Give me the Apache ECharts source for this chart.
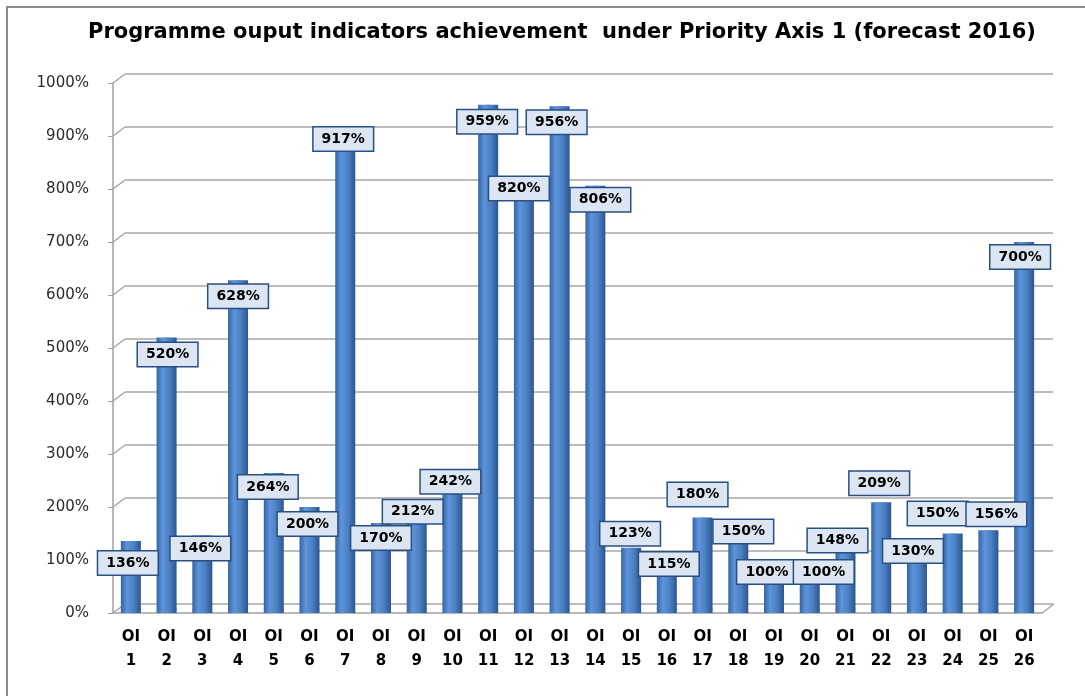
<!DOCTYPE html>
<html>
<head>
<meta charset="utf-8">
<script src="https://cdn.jsdelivr.net/npm/echarts@6/dist/echarts.min.js"></script>
<style>
  html, body { margin: 0; padding: 0; background: #fff; }
  #chart { width: 1085px; height: 696px; }
</style>
</head>
<body>
<div id="chart"></div>
<script>
// values
const categories = ['OI\n1', 'OI\n2', 'OI\n3', 'OI\n4', 'OI\n5', 'OI\n6', 'OI\n7', 'OI\n8', 'OI\n9', 'OI\n10',
  'OI\n11', 'OI\n12', 'OI\n13', 'OI\n14', 'OI\n15', 'OI\n16', 'OI\n17', 'OI\n18', 'OI\n19', 'OI\n20',
  'OI\n21', 'OI\n22', 'OI\n23', 'OI\n24', 'OI\n25', 'OI\n26'];
const achievement = [136, 520, 146, 628, 264, 200, 917, 170, 212, 242, 959, 820, 956, 806, 123,
  115, 180, 150, 100, 100, 148, 209, 130, 150, 156, 700];
const yTicks = [0, 100, 200, 300, 400, 500, 600, 700, 800, 900, 1000];
// where each data label sits, relative to the top of its bar (px)
const labelShift = [[-3, 22], [1, 17], [-2, 13], [0, 16], [-6, 14], [-2, 17], [-2, 12], [0, 15], [-4, 11], [-2, -3],
  [-1, 17], [-5, 10], [-3, 16], [5, 14], [-1, -14], [2, 12], [-5, -23], [5, -2], [-7, 12], [14, 12],
  [-8, 6], [-2, -19], [-4, 7], [-15, -20], [8, -16], [-4, 15]];

const chartDom = document.getElementById('chart');
const myChart = echarts.init(chartDom);

const barColor = new echarts.graphic.LinearGradient(0, 0, 1, 0, [
  { offset: 0, color: '#3464a4' },
  { offset: 0.3, color: '#5e94da' },
  { offset: 0.65, color: '#4a7fc3' },
  { offset: 1, color: '#2b558f' },
]);

const option = {
  animation: false,
  title: {
    text: 'Programme ouput indicators achievement  under Priority Axis 1 (forecast 2016)',
    left: 83,
    top: 17,
    textStyle: { fontFamily: 'DejaVu Sans', fontWeight: 'bold', fontSize: 21, color: '#000' },
  },
  graphic: [
    {
      type: 'rect',
      shape: { x: 7, y: 7, width: 1200, height: 1000 },
      style: { fill: 'none', stroke: '#8c8c8c', lineWidth: 2 },
      silent: true,
    },
  ],
  grid: [
    { left: 113, right: 43, top: 83, bottom: 83 },
    { left: 125, right: 32, top: 74, bottom: 92 }, // back wall
  ],
  xAxis: [
    {
      type: 'category',
      data: categories,
      gridIndex: 0,
      axisLine: { lineStyle: { color: '#a0a0a0', width: 1.5 } },
      axisTick: { lineStyle: { color: '#a0a0a0' }, length: 5 },
      axisLabel: {
        interval: 0,
        margin: 12,
        fontFamily: 'DejaVu Sans',
        fontWeight: 'bold',
        fontSize: 15,
        lineHeight: 24,
        color: '#000',
      },
    },
    { type: 'category', data: categories, gridIndex: 1, show: false },
  ],
  yAxis: [
    {
      type: 'value',
      gridIndex: 0,
      min: 0,
      max: 1000,
      interval: 100,
      splitLine: { show: false },
      axisLine: { show: true, lineStyle: { color: '#a0a0a0', width: 1.5 } },
      axisTick: { show: true, length: 5, lineStyle: { color: '#a0a0a0' } },
      axisLabel: {
        formatter: (v) => v + '%',
        margin: 24,
        fontFamily: 'DejaVu Sans',
        fontSize: 15,
        color: '#2a2a2a',
      },
    },
    {
      type: 'value',
      gridIndex: 1,
      min: 0,
      max: 1000,
      interval: 100,
      axisLine: { show: false },
      axisTick: { show: false },
      axisLabel: { show: false },
      splitLine: { lineStyle: { color: '#a6a6a6', width: 1.5 } },
    },
  ],
  series: [
    {
      // small diagonals that join the front axis to the back wall
      type: 'custom',
      xAxisIndex: 0,
      yAxisIndex: 0,
      data: yTicks,
      silent: true,
      z: 1,
      renderItem: (params, api) => {
        const cs = params.coordSys;
        const y = api.coord([0, api.value(0)])[1];
        const children = [
          { type: 'line', shape: { x1: cs.x, y1: y, x2: cs.x + 12, y2: y - 9 }, style: { stroke: '#a6a6a6', lineWidth: 1.5 } },
        ];
        if (api.value(0) === 0) {
          children.push({
            type: 'line',
            shape: { x1: cs.x + cs.width, y1: y, x2: cs.x + cs.width + 12, y2: y - 9 },
            style: { stroke: '#a6a6a6', lineWidth: 1.5 },
          });
        }
        return { type: 'group', children };
      },
      encode: { y: 0 },
    },
    {
      // rounded foot of each cylinder
      type: 'pictorialBar',
      data: achievement,
      symbol: 'circle',
      symbolSize: [20, 7],
      symbolPosition: 'start',
      symbolOffset: [0, 0],
      itemStyle: { color: barColor },
      z: 3,
      silent: true,
    },
    {
      // top cap
      type: 'pictorialBar',
      data: achievement,
      symbol: 'circle',
      symbolSize: [20, 7],
      symbolPosition: 'end',
      symbolOffset: [0, 0],
      itemStyle: { color: '#4d80c4' },
      z: 2,
      silent: true,
    },
    {
      type: 'bar',
      data: achievement.map((v, i) => ({
        value: v,
        label: { offset: labelShift[i] },
      })),
      barWidth: 20,
      z: 3,
      itemStyle: { color: barColor },
      label: {
        show: true,
        position: ['50%', 0],
        align: 'center',
        verticalAlign: 'middle',
        formatter: '{c}%',
        fontFamily: 'DejaVu Sans',
        fontWeight: 'bold',
        fontSize: 14,
        color: '#000',
        backgroundColor: '#dce6f2',
        borderColor: '#2a4f82',
        borderWidth: 1.5,
        padding: [5, 8, 4, 8],
      },
    },
  ],
};

option && myChart.setOption(option);
</script>
</body>
</html>
